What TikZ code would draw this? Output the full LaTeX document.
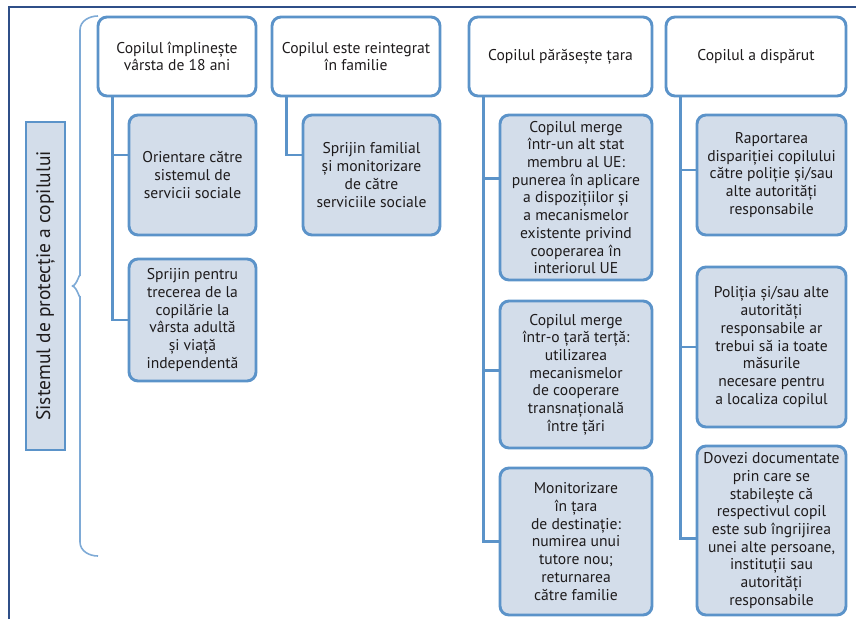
\documentclass[tikz,border=0pt]{standalone}
\usepackage{fontspec}
\setmainfont{PT Sans}
\definecolor{boxblue}{HTML}{5B93C9}
\definecolor{boxfill}{HTML}{D3DDEA}
\definecolor{framedark}{HTML}{2F4F88}
\definecolor{bracelight}{HTML}{7EAAD6}
\definecolor{inktext}{HTML}{1E1B1C}

\begin{document}
\begin{tikzpicture}[x=1pt,y=-1pt,
        topbox/.style={draw=boxblue,line width=2.9pt,fill=white,rounded corners=9pt,align=center,text=inktext,font=\fontsize{15.6}{17.7}\selectfont,inner sep=2pt},
        subbox/.style={topbox,fill=boxfill},
        link/.style={draw=boxblue,line width=2.9pt},
        sidelabel/.style={draw=boxblue,line width=2.9pt,fill=boxfill,rotate=90,minimum width=328pt,minimum height=39pt,text=inktext,font=\fontsize{19.5}{21}\selectfont}]
        \useasboundingbox (0,0) rectangle (856,619);
        \draw[framedark,line width=2pt] (8.5,619) -- (8.5,7) -- (856,7);
        \draw[bracelight,line width=1.6pt] (98,16) to[out=180,in=90] (80,30) -- (80,276) to[out=90,in=0] (72,286);
        \draw[bracelight,line width=1.6pt] (72,286) to[out=0,in=-90] (80,296) -- (80,542) to[out=-90,in=180] (98,556);
        \node[sidelabel] (L) at (45.5,286) {Sistemul de protecție a copilului};

        \node[topbox,minimum width=158pt,minimum height=79pt] (T1) at (177,56.5) {Copilul împlinește\\vârsta de 18 ani};
        \node[topbox,minimum width=168pt,minimum height=79pt] (T2) at (356,56.5) {Copilul este reintegrat\\în familie};
        \node[topbox,minimum width=183pt,minimum height=79pt] (T3) at (560.5,56.5) {Copilul părăsește țara};
        \node[topbox,minimum width=180pt,minimum height=79pt] (T4) at (756,56.5) {Copilul a dispărut};

        \node[subbox,minimum width=127pt,minimum height=120pt] (S11) at (192.5,175) {Orientare către\\sistemul de\\servicii sociale};
        \node[subbox,minimum width=127pt,minimum height=122pt] (S12) at (192.5,320) {Sprijin pentru\\trecerea de la\\copilărie la\\vârsta adultă\\și viață\\independentă};
        \node[subbox,minimum width=137pt,minimum height=120pt] (S21) at (371.5,175) {Sprijin familial\\și monitorizare\\de către\\serviciile sociale};
        \node[subbox,minimum width=152pt,minimum height=165pt] (S31) at (576,197.5) {Copilul merge\\într-un alt stat\\membru al UE:\\punerea în aplicare\\a dispozițiilor și\\a mecanismelor\\existente privind\\cooperarea în\\interiorul UE};
        \node[subbox,minimum width=152pt,minimum height=147pt] (S32) at (576,374.5) {Copilul merge\\într-o țară terță:\\utilizarea\\mecanismelor\\de cooperare\\transnațională\\între țări};
        \node[subbox,minimum width=152pt,minimum height=147pt] (S33) at (576,541.5) {Monitorizare\\în țara\\de destinație:\\numirea unui\\tutore nou;\\returnarea\\către familie};
        \node[subbox,minimum width=149pt,minimum height=120pt] (S41) at (771.5,175) {Raportarea\\dispariției copilului\\către poliție și/sau\\alte autorități\\responsabile};
        \node[subbox,minimum width=149pt,minimum height=160pt] (S42) at (771.5,347) {Poliția și/sau alte\\autorități\\responsabile ar\\trebui să ia toate\\măsurile\\necesare pentru\\a localiza copilul};
        \node[subbox,minimum width=149pt,minimum height=169pt] (S43) at (771.5,530.5) {Dovezi documentate\\prin care se\\stabilește că\\respectivul copil\\este sub îngrijirea\\unei alte persoane,\\instituții sau\\autorități\\responsabile};

        \draw[link] ([xshift=16pt]T1.south west) |- ([yshift=20pt]S11.west);
        \draw[link] ([xshift=16pt]T1.south west) |- (S12.west);
        \draw[link] ([xshift=16pt]T2.south west) |- ([yshift=20pt]S21.west);
        \draw[link] ([xshift=16pt]T3.south west) |- ([yshift=19pt]S31.west);
        \draw[link] ([xshift=16pt]T3.south west) |- ([yshift=4pt]S32.west);
        \draw[link] ([xshift=16pt]T3.south west) |- (S33.west);
        \draw[link] ([xshift=16pt]T4.south west) |- ([yshift=5pt]S41.west);
        \draw[link] ([xshift=16pt]T4.south west) |- (S42.west);
        \draw[link] ([xshift=16pt]T4.south west) |- ([yshift=-8pt]S43.west);
    \end{tikzpicture}
\end{document}
